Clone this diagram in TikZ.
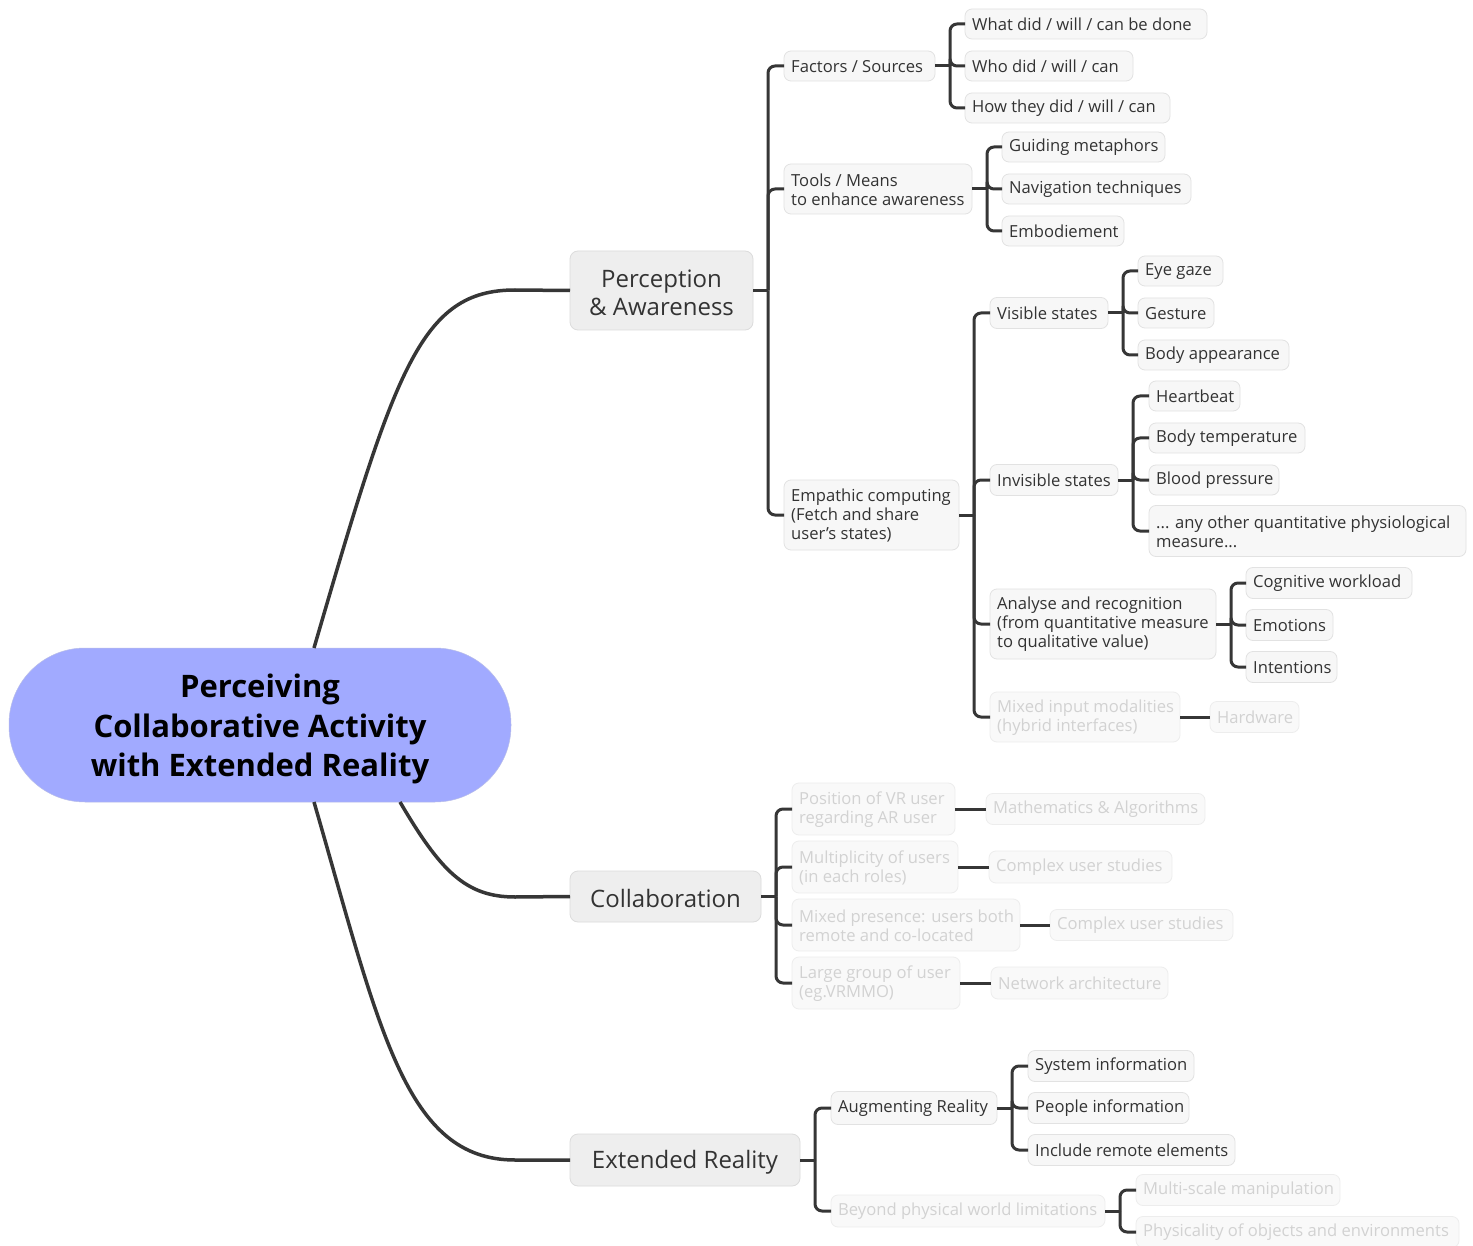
\documentclass[tikz,border=0pt]{standalone}
\usepackage{fontspec}
\setmainfont{Open Sans}
\definecolor{conncol}{HTML}{363636}
\definecolor{subfill}{HTML}{F7F7F7}
\definecolor{subdraw}{HTML}{E2E2E2}
\definecolor{subtext}{HTML}{333333}
\definecolor{fadetext}{HTML}{D2D2D2}
\definecolor{fadefill}{HTML}{F9F9F9}
\definecolor{fadedraw}{HTML}{EDEDED}
\definecolor{mainfill}{HTML}{EEEEEE}
\definecolor{maindraw}{HTML}{DCDCDC}
\definecolor{cenfill}{HTML}{A1AAFF}
\tikzset{
  subbox/.style={draw=subdraw, fill=subfill, line width=0.8pt, rounded corners=7pt, inner sep=0pt, outer sep=0pt},
  subtxt/.style={text=subtext, inner sep=0pt, font=\fontsize{16.6}{19}\selectfont},
  fadebox/.style={draw=fadedraw, fill=fadefill, line width=0.8pt, rounded corners=7pt, inner sep=0pt, outer sep=0pt},
  fadetxt/.style={text=fadetext, inner sep=0pt, font=\fontsize{16.6}{19}\selectfont},
  mainbox/.style={draw=maindraw, fill=mainfill, line width=0.8pt, rounded corners=8pt, inner sep=0pt, outer sep=0pt},
  maintxt/.style={inner sep=0pt, text=subtext, align=center, font=\fontsize{24}{28}\selectfont},
  centerbox/.style={fill=cenfill, draw=cenfill!85!black!60, line width=0.5pt, rounded corners=76pt, inner sep=0pt, outer sep=0pt},
  centertxt/.style={inner sep=0pt, align=center, font=\fontsize{31}{39.5}\selectfont\bfseries, text=black},
  conn/.style={draw=conncol, line width=3pt},
  mainconn/.style={draw=conncol, line width=3.5pt},
}
\newcommand\mmnode[7]{%
  \node[#1box, minimum width=#5pt, minimum height=#6pt, anchor=west] (#2) at (#3,#4) {};
  \node[#1txt, anchor=west, align=left] (#2t) at ([xshift=7pt,yshift=-0.5pt]#2.west) {#7};}
\newcommand\mmmain[7]{%
  \node[#1box, minimum width=#5pt, minimum height=#6pt] (#2) at (#3,#4) {};
  \node[#1txt] (#2t) at ([yshift=-2pt]#2.center) {#7};}
\newcommand\mmstem[1]{\draw[conn] (#1.east) -- ++(15,0);}
\newcommand\mmbr[2]{\draw[conn, rounded corners=7pt] (#1.east) ++(15,0) |- (#2.west);}
\newcommand\mmline[2]{\draw[conn] (#1.east) -- (#2.west);}
\begin{document}
\begin{tikzpicture}[x=1pt, y=-1pt]
\useasboundingbox (0,0) rectangle (1473,1246);
\fill[white] (0,0) rectangle (1473,1246);

% central and main nodes
\node[centerbox, minimum width=502pt, minimum height=154pt] (cen) at (260,725) {};
\node[centertxt] (cent) at ([yshift=-4pt]cen.center) {Perceiving\\Collaborative Activity\\with Extended Reality};
\mmmain{main}{pa}{661.5}{290.5}{183}{79}{Perception\\\& Awareness}
\mmmain{main}{co}{665.5}{896.5}{191}{51}{Collaboration}
\mmmain{main}{er}{685}{1160}{230}{52}{Extended Reality}

% main connectors
\draw[mainconn] (cen.north) ++(54,0) .. controls (395,370) and (420,290) .. (515,290) -- (pa.west);
\draw[mainconn] (cen.south) ++(140,0) .. controls (440,870) and (465,897) .. (515,897) -- (co.west);
\draw[mainconn] (cen.south) ++(54,0) .. controls (380,1030) and (405,1160) .. (515,1160) -- (er.west);

% Perception & Awareness subtree
\mmnode{sub}{fs}{784}{66}{151}{30}{Factors / Sources}
\mmnode{sub}{ta}{965}{24}{242}{30}{What did / will / can be done}
\mmnode{sub}{tb}{965}{66}{168}{30}{Who did / will / can}
\mmnode{sub}{tc}{965}{108}{205}{30}{How they did / will / can}
\mmnode{sub}{tm}{784}{189}{188}{50}{Tools / Means\\to enhance awareness}
\mmnode{sub}{ga}{1002}{147}{163}{30}{Guiding metaphors}
\mmnode{sub}{gb}{1002}{189}{189}{30}{Navigation techniques}
\mmnode{sub}{gc}{1002}{231}{122}{30}{Embodiement}
\mmnode{sub}{em}{784}{515}{175}{70}{Empathic computing\\(Fetch and share\\user's states)}
\mmnode{sub}{vs}{990}{313}{118}{31}{Visible states}
\mmnode{sub}{va}{1138}{271}{85}{30}{Eye gaze}
\mmnode{sub}{vb}{1138}{313}{76}{30}{Gesture}
\mmnode{sub}{vc}{1138}{355}{151}{30}{Body appearance}
\mmnode{sub}{is}{990}{480}{128}{31}{Invisible states}
\mmnode{sub}{ia}{1149}{396}{91}{30}{Heartbeat}
\mmnode{sub}{ib}{1149}{438}{156}{30}{Body temperature}
\mmnode{sub}{ic}{1149}{480}{130}{30}{Blood pressure}
\mmnode{sub}{id}{1149}{531}{317}{51}{... any other quantitative physiological\\measure...}
\mmnode{sub}{an}{990}{624}{226}{70}{Analyse and recognition\\(from quantitative measure\\to qualitative value)}
\mmnode{sub}{aa}{1246}{583}{166}{31}{Cognitive workload}
\mmnode{sub}{ab}{1246}{625}{87}{31}{Emotions}
\mmnode{sub}{ac}{1246}{667}{91}{31}{Intentions}
\mmnode{fade}{mi}{990}{717}{190}{50}{Mixed input modalities\\(hybrid interfaces)}
\mmnode{fade}{hw}{1210}{717}{89}{31}{Hardware}

\mmstem{pa} \mmbr{pa}{fs} \mmbr{pa}{tm} \mmbr{pa}{em}
\mmstem{fs} \mmbr{fs}{ta} \mmbr{fs}{tb} \mmbr{fs}{tc}
\mmstem{tm} \mmbr{tm}{ga} \mmbr{tm}{gb} \mmbr{tm}{gc}
\mmstem{em} \mmbr{em}{vs} \mmbr{em}{is} \mmbr{em}{an} \mmbr{em}{mi}
\mmstem{vs} \mmbr{vs}{va} \mmbr{vs}{vb} \mmbr{vs}{vc}
\mmstem{is} \mmbr{is}{ia} \mmbr{is}{ib} \mmbr{is}{ic} \mmbr{is}{id}
\mmstem{an} \mmbr{an}{aa} \mmbr{an}{ab} \mmbr{an}{ac}
\mmline{mi}{hw}

% Collaboration subtree
\mmnode{fade}{ca}{792}{809}{163}{52}{Position of VR user\\regarding AR user}
\mmnode{fade}{cb}{792}{867}{166}{52}{Multiplicity of users\\(in each roles)}
\mmnode{fade}{cc}{792}{925}{228}{52}{Mixed presence: users both\\remote and co-located}
\mmnode{fade}{cd}{792}{983}{168}{52}{Large group of user\\(eg.VRMMO)}
\mmnode{fade}{da}{986}{809}{219}{31}{Mathematics \& Algorithms}
\mmnode{fade}{db}{989}{867}{183}{32}{Complex user studies}
\mmnode{fade}{dc}{1050}{925}{183}{31}{Complex user studies}
\mmnode{fade}{dd}{991}{983}{177}{32}{Network architecture}
\mmstem{co} \mmbr{co}{ca} \mmbr{co}{cb} \mmbr{co}{cc} \mmbr{co}{cd}
\mmline{ca}{da} \mmline{cb}{db} \mmline{cc}{dc} \mmline{cd}{dd}

% Extended Reality subtree
\mmnode{sub}{ar}{831}{1108}{166}{33}{Augmenting Reality}
\mmnode{sub}{sa}{1028}{1066}{166}{31}{System information}
\mmnode{sub}{sb}{1028}{1108}{161}{31}{People information}
\mmnode{sub}{sc}{1028}{1150}{207}{31}{Include remote elements}
\mmnode{fade}{bp}{831}{1211}{274}{32}{Beyond physical world limitations}
\mmnode{fade}{ba}{1136}{1190}{204}{31}{Multi-scale manipulation}
\mmnode{fade}{bb}{1136}{1232}{323}{31}{Physicality of objects and environments}
\mmstem{er} \mmbr{er}{ar} \mmbr{er}{bp}
\mmstem{ar} \mmbr{ar}{sa} \mmbr{ar}{sb} \mmbr{ar}{sc}
\mmstem{bp} \mmbr{bp}{ba} \mmbr{bp}{bb}
\end{tikzpicture}
\end{document}
